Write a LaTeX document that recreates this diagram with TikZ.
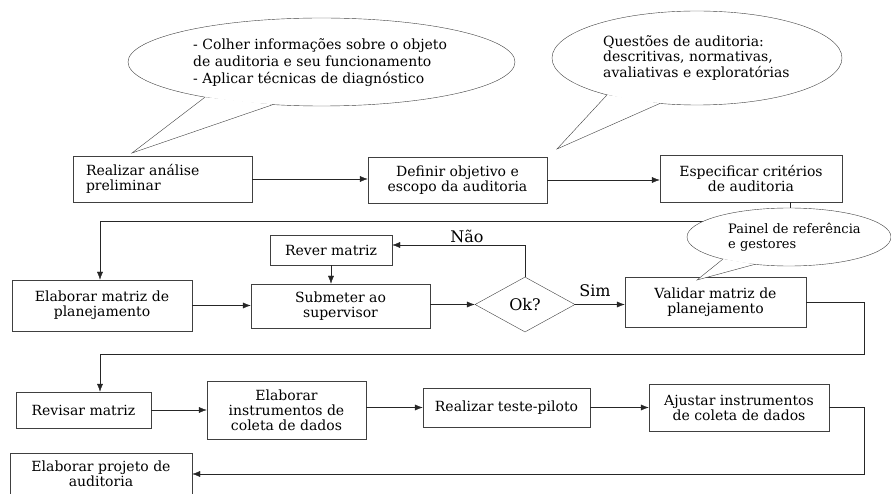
\documentclass[tikz,border=0pt]{standalone}
\usepackage{fontspec}
\setmainfont{DejaVu Serif}
\usetikzlibrary{shapes.geometric,arrows.meta}

\begin{document}
\begin{tikzpicture}[x=1pt,y=-1pt,
    font=\fontsize{14}{15}\selectfont,
    box/.style={draw=black!75, fill=white, align=center, inner sep=0pt},
    bubble/.style={draw=black!75, fill=white},
    bubbletext/.style={anchor=west, align=left, inner sep=0pt},
    conn/.style={draw=black!85},
    arrow/.style={conn, -{Latex[length=8pt,width=6pt]}},
    answer/.style={font=\fontsize{16}{16}\selectfont}]
  \useasboundingbox (0,0) rectangle (891,494);

  % First row
  \node[box, minimum width=179pt, minimum height=46pt, text width=153pt, align=left]
    (analise) at (162.5,179) {Realizar análise\\preliminar};
  \node[box, minimum width=179pt, minimum height=46pt] (objetivo) at (457.5,180)
    {Definir objetivo e\\escopo da auditoria};
  \node[box, minimum width=182pt, minimum height=47pt] (criterios) at (751,178.5)
    {Especificar critérios\\de auditoria};

  % Second row
  \node[box, minimum width=180pt, minimum height=51pt] (matriz) at (102,305.5)
    {Elaborar matriz de\\planejamento};
  \node[box, minimum width=122pt, minimum height=30pt] (rever) at (331,250) {Rever matriz};
  \node[box, minimum width=179pt, minimum height=44pt] (submeter) at (340.5,306)
    {Submeter ao\\supervisor};
  \node[diamond, draw=black!75, minimum width=100pt, minimum height=55pt, inner sep=0pt,
    answer] (ok) at (525,304.5) {Ok?};
  \node[box, minimum width=181pt, minimum height=50pt] (validar) at (715.5,302)
    {Validar matriz de\\planejamento};

  % Third row
  \node[box, minimum width=135pt, minimum height=36pt] (revisar) at (83.5,410) {Revisar matriz};
  \node[box, minimum width=159pt, minimum height=58pt] (instrumentos) at (286.5,410)
    {Elaborar\\instrumentos de\\coleta de dados};
  \node[box, minimum width=167pt, minimum height=39pt] (piloto) at (506.5,407.5)
    {Realizar teste-piloto};
  \node[box, minimum width=180pt, minimum height=47pt] (ajustar) at (739,407.5)
    {Ajustar instrumentos\\de coleta de dados};
  \node[box, minimum width=182pt, minimum height=42pt] (projeto) at (101,474)
    {Elaborar projeto de\\auditoria};

  % Corners of the connectors
  \coordinate (c1) at (790,221);
  \coordinate (c2) at (100,221);
  \coordinate (nao) at (525,245);
  \coordinate (c3) at (864,354);
  \coordinate (c4) at (100,354);
  \coordinate (c5) at (864,474);

  % Draw connectors
  \draw[arrow] (analise.east) -- (analise.east -| objetivo.west);
  \draw[arrow] (objetivo.east) -- (objetivo.east -| criterios.west);
  \draw[arrow] (criterios.south -| c1) -- (c1) -- (c2) -- (c2 |- matriz.north);
  \draw[arrow] (matriz.east) -- (matriz.east -| submeter.west);
  \draw[arrow] (rever.south) -- (rever.south |- submeter.north);
  \draw[arrow] (ok.west -| submeter.east) -- (ok.west);
  \draw[arrow] (ok.north) -- (nao) -- (nao -| rever.east);
  \draw[arrow] (ok.east) -- (ok.east -| validar.west);
  \draw[arrow] (validar.east) -- (validar.east -| c3) -- (c3) -- (c4) -- (c4 |- revisar.north);
  \draw[arrow] (revisar.east) -- (revisar.east -| instrumentos.west);
  \draw[arrow] (piloto.west -| instrumentos.east) -- (piloto.west);
  \draw[arrow] (piloto.east) -- (piloto.east -| ajustar.west);
  \draw[arrow] (ajustar.east) -- (ajustar.east -| c5) -- (c5) -- (projeto.east);

  \node[answer] (naolabel) at (467,236) {Não};
  \node[answer] (simlabel) at (595,291) {Sim};

  % Draw bubbles
  \filldraw[bubble] (321.5,62) ellipse [x radius=193.5, y radius=44];
  \filldraw[bubble] (205,97.2) -- (132,153) -- (273,104.6);
  \node[bubbletext, font=\fontsize{14}{17}\selectfont] (info) at (193,63)
    {- Colher informações sobre o objeto\\de auditoria e seu funcionamento\\- Aplicar técnicas de diagnóstico};

  \filldraw[bubble] (697,58) ellipse [x radius=145, y radius=47];
  \filldraw[bubble] (607,94.9) -- (557,149) -- (660,103.4);
  \node[bubbletext, font=\fontsize{14}{15.5}\selectfont] (questoes) at (603,58)
    {Questões de auditoria:\\descritivas, normativas,\\avaliativas e exploratórias};

  \filldraw[bubble] (789,237) ellipse [x radius=102, y radius=29];
  \filldraw[bubble] (723,259) -- (697,280) -- (755,264.3);
  \node[bubbletext, font=\fontsize{13}{15}\selectfont] (painel) at (728,237.5)
    {Painel de referência\\e gestores};
\end{tikzpicture}
\end{document}
